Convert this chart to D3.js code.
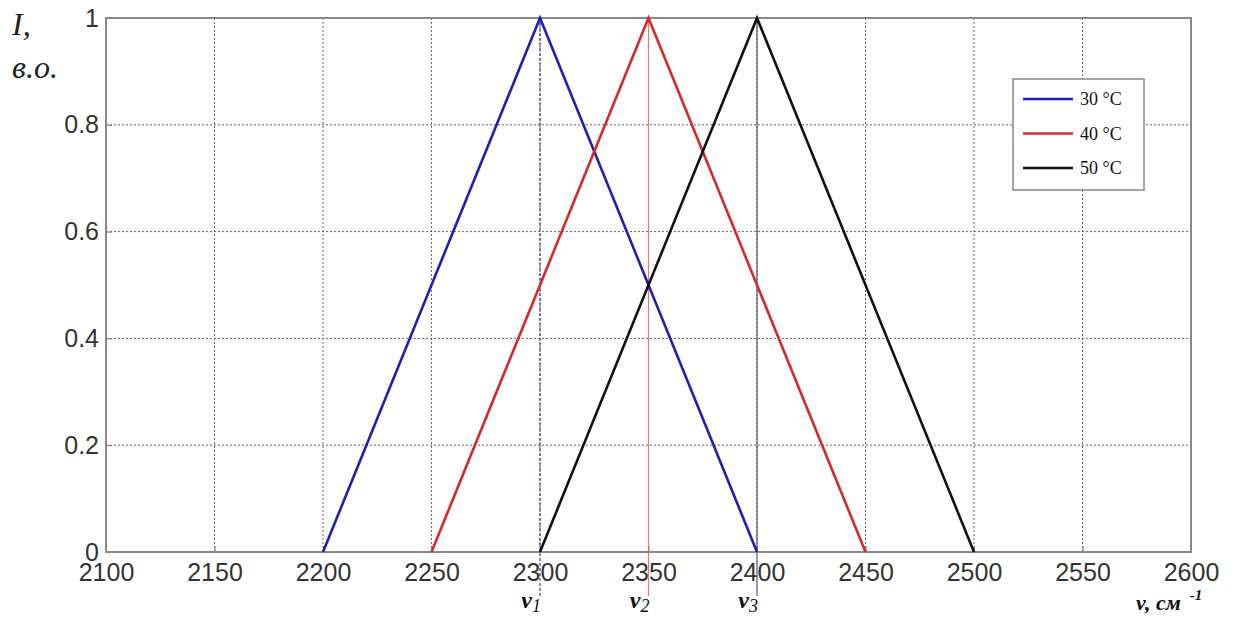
<!DOCTYPE html>
<html>
<head>
<meta charset="utf-8">
<script src="https://cdn.jsdelivr.net/npm/d3@7/dist/d3.min.js"></script>
<style>
  html, body { margin: 0; padding: 0; background: #fff; }
  svg { display: block; }
</style>
</head>
<body>
<svg id="chart" width="1237" height="617"></svg>
<script>
// Wavenumber ticks and intensity ticks
const xTicks = [2100, 2150, 2200, 2250, 2300, 2350, 2400, 2450, 2500, 2550, 2600];
const yTicks = [0, 0.2, 0.4, 0.6, 0.8, 1];
const yTickLabels = ["0", "0.2", "0.4", "0.6", "0.8", "1"];

// Triangular band profiles per temperature
const seriesNames = ["30 °C", "40 °C", "50 °C"];
const seriesColors = ["#1f1fb0", "#d42a2a", "#111111"];
const waveNumbers30 = [2200, 2300, 2400];
const intensity30 = [0, 1, 0];
const waveNumbers40 = [2250, 2350, 2450];
const intensity40 = [0, 1, 0];
const waveNumbers50 = [2300, 2400, 2500];
const intensity50 = [0, 1, 0];

// Peak markers ν1, ν2, ν3
const peakPositions = [2300, 2350, 2400];
const peakSubscripts = ["1", "2", "3"];
const peakColors = ["#3a3ab8", "#e07a7a", "#555566"];

const series = [
  { name: seriesNames[0], color: seriesColors[0], x: waveNumbers30, y: intensity30 },
  { name: seriesNames[1], color: seriesColors[1], x: waveNumbers40, y: intensity40 },
  { name: seriesNames[2], color: seriesColors[2], x: waveNumbers50, y: intensity50 }
];

const svg = d3.select("#chart");
const plot = { left: 106, right: 1191, top: 18, bottom: 552 };

const x = d3.scaleLinear().domain([2100, 2600]).range([plot.left, plot.right]);
const y = d3.scaleLinear().domain([0, 1]).range([plot.bottom, plot.top]);

// Dotted grid
const grid = svg.append("g");
grid.selectAll("line.gx").data(xTicks.slice(1, -1)).join("line")
  .attr("x1", d => x(d)).attr("x2", d => x(d))
  .attr("y1", plot.top).attr("y2", plot.bottom)
  .attr("stroke", "#666").attr("stroke-width", 1).attr("stroke-dasharray", "2,2");
grid.selectAll("line.gy").data(yTicks.slice(1, -1)).join("line")
  .attr("x1", plot.left).attr("x2", plot.right)
  .attr("y1", d => y(d)).attr("y2", d => y(d))
  .attr("stroke", "#666").attr("stroke-width", 1).attr("stroke-dasharray", "2,2");

// Axes with inward ticks
const axisFont = "'Liberation Sans', Arial, sans-serif";
const xAxis = svg.append("g").attr("transform", `translate(0,${plot.bottom})`)
  .call(d3.axisBottom(x).tickValues(xTicks).tickFormat(d3.format("d")).tickSizeInner(-6).tickSizeOuter(0).tickPadding(11));
const yAxis = svg.append("g").attr("transform", `translate(${plot.left},0)`)
  .call(d3.axisLeft(y).tickValues(yTicks).tickFormat((d, i) => yTickLabels[i]).tickSizeInner(-6).tickSizeOuter(0).tickPadding(7));
[xAxis, yAxis].forEach(a => {
  a.select(".domain").remove();
  a.selectAll(".tick line").attr("stroke", "#777").attr("stroke-width", 1);
  a.selectAll(".tick text").attr("fill", "#333").style("font-family", axisFont).style("font-size", "25px");
});
xAxis.selectAll(".tick text").attr("dy", "0.72em");

// Peak markers, extending below the axis
const peaks = svg.append("g");
peakPositions.forEach((p, i) => {
  peaks.append("line")
    .attr("x1", x(p)).attr("x2", x(p))
    .attr("y1", y(1)).attr("y2", 596)
    .attr("stroke", peakColors[i]).attr("stroke-width", 1.2)
    .attr("stroke-dasharray", i === 0 ? "3,2" : null);
});

// Frame
svg.append("rect")
  .attr("x", plot.left).attr("y", plot.top)
  .attr("width", plot.right - plot.left).attr("height", plot.bottom - plot.top)
  .attr("fill", "none").attr("stroke", "#888").attr("stroke-width", 2);

// Band lines
const line = d3.line().x(d => x(d[0])).y(d => y(d[1]));
svg.append("g").selectAll("path").data(series).join("path")
  .attr("d", s => line(s.x.map((v, i) => [v, s.y[i]])))
  .attr("fill", "none").attr("stroke", s => s.color)
  .attr("stroke-width", 2.6).attr("stroke-linejoin", "miter");

// Peak labels ν1..ν3
const serif = "'Liberation Serif', 'Times New Roman', serif";
peakPositions.forEach((p, i) => {
  const t = svg.append("text")
    .attr("x", x(p) + 1).attr("y", 608)
    .attr("text-anchor", "end")
    .style("font-family", serif).style("font-style", "italic").style("font-weight", "bold")
    .style("font-size", "24px").attr("fill", "#111");
  t.append("tspan").text("v");
  t.append("tspan").attr("dy", 4).style("font-size", "18px").style("font-weight", "normal").text(peakSubscripts[i]);
});

// Axis titles
svg.append("text").attr("x", 12).attr("y", 35)
  .style("font-family", serif).style("font-style", "italic").style("font-size", "32px")
  .attr("fill", "#222").text("I,");
svg.append("text").attr("x", 12).attr("y", 78)
  .style("font-family", serif).style("font-style", "italic").style("font-size", "32px")
  .attr("fill", "#222").text("в.о.");
const xt = svg.append("text").attr("x", 1136).attr("y", 610)
  .style("font-family", serif).style("font-style", "italic").style("font-weight", "bold")
  .style("font-size", "22px").attr("fill", "#111");
xt.append("tspan").text("v, см");
xt.append("tspan").attr("dx", 9).attr("dy", -10).style("font-size", "15px").text("-1");

// Legend
const legend = svg.append("g");
legend.append("rect").attr("x", 1013).attr("y", 79).attr("width", 131).attr("height", 111)
  .attr("fill", "#fff").attr("stroke", "#888").attr("stroke-width", 1.5);
series.forEach((s, i) => {
  const ly = 99 + i * 34.5;
  legend.append("line").attr("x1", 1023).attr("x2", 1073).attr("y1", ly).attr("y2", ly)
    .attr("stroke", s.color).attr("stroke-width", 2.6);
  legend.append("text").attr("x", 1080).attr("y", ly).attr("dy", "0.35em")
    .style("font-family", serif).style("font-size", "18px").attr("fill", "#111").text(s.name);
});
</script>
</body>
</html>
